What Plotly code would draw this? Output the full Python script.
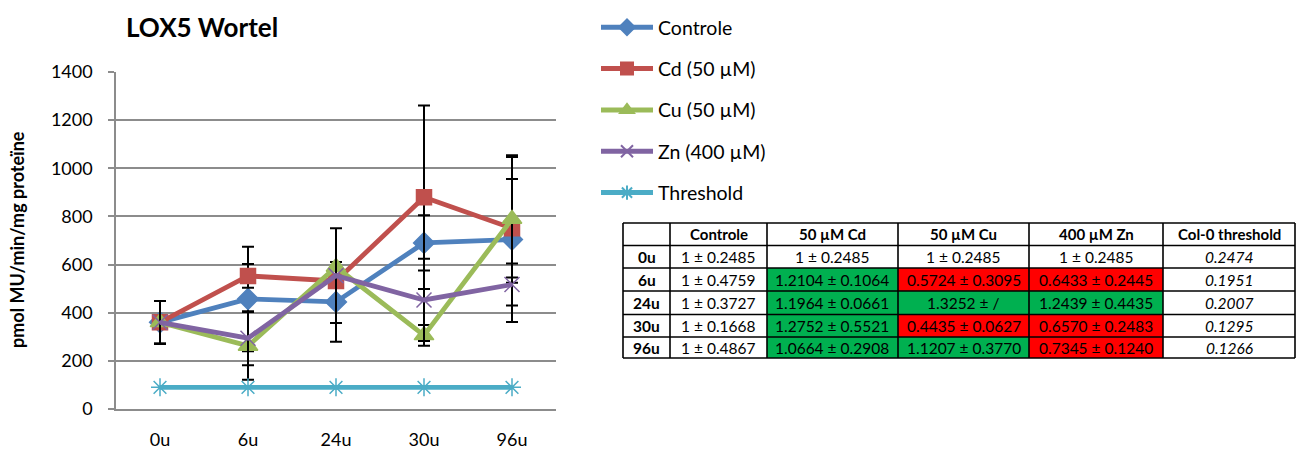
import plotly.graph_objects as go

# Sampling times
times = ["0u", "6u", "24u", "30u", "96u"]

# LOX5 activity (pmol MU/min/mg proteïne) and standard deviations
controle = [360, 457, 445, 690, 704]
controle_sd = [89, 217, 166, 115, 343]
cd = [360, 553, 532, 880, 751]
cd_sd = [89, 49, 29, 381, 205]
cu = [360, 262, 590, 306, 789]
cu_sd = [89, 141, None, 43, 265]
zn = [360, 294, 554, 453, 517]
zn_sd = [89, 112, 197, 171, 87]
threshold = [90, 90, 90, 90, 90]

# Relative activity table
table_header = ["", "Controle", "50 µM Cd", "50 µM Cu", "400 µM Zn", "Col-0 threshold"]
row_labels = ["0u", "6u", "24u", "30u", "96u"]
tbl_controle = ["1 ± 0.2485", "1 ± 0.4759", "1 ± 0.3727", "1 ± 0.1668", "1 ± 0.4867"]
tbl_cd = ["1 ± 0.2485", "1.2104 ± 0.1064", "1.1964 ± 0.0661", "1.2752 ± 0.5521", "1.0664 ± 0.2908"]
tbl_cu = ["1 ± 0.2485", "0.5724 ± 0.3095", "1.3252 ± /", "0.4435 ± 0.0627", "1.1207 ± 0.3770"]
tbl_zn = ["1 ± 0.2485", "0.6433 ± 0.2445", "1.2439 ± 0.4435", "0.6570 ± 0.2483", "0.7345 ± 0.1240"]
tbl_threshold = ["0.2474", "0.1951", "0.2007", "0.1295", "0.1266"]
# significance flags: "up" above threshold, "down" below, "" none
flag_cd = ["", "up", "up", "up", "up"]
flag_cu = ["", "down", "up", "down", "up"]
flag_zn = ["", "down", "up", "down", "down"]

FONT = "Lato, 'Open Sans', sans-serif"
W, H = 1304, 455
flag_color = {"": "white", "up": "#00B050", "down": "#FF0000"}


def err(sd):
    return dict(type="data", array=sd, visible=True, color="black",
                thickness=2, width=6)


series = [
    ("Controle", controle, controle_sd, "#4F81BD", "diamond", 16),
    ("Cd (50 µM)", cd, cd_sd, "#C0504D", "square", 15),
    ("Cu (50 µM)", cu, cu_sd, "#9BBB59", "triangle-up", 17),
    ("Zn (400 µM)", zn, zn_sd, "#8064A2", "x-thin-open", 15),
]

fig = go.Figure()
for i, (name, vals, sd, col, sym, sz) in enumerate(series):
    fig.add_trace(go.Scatter(
        x=times, y=vals, name=name, mode="lines+markers",
        line=dict(color=col, width=4.8),
        marker=dict(symbol=sym, size=sz, color=col, line=dict(color=col, width=1.5)),
        error_y=err(sd), legendgroup=f"g{i}",
    ))
fig.add_trace(go.Scatter(
    x=times, y=threshold, name="Threshold", mode="lines+markers",
    line=dict(color="#4BACC6", width=4.8),
    marker=dict(symbol="asterisk-open", size=15, color="#4BACC6",
                line=dict(color="#4BACC6", width=1.5)),
    legendgroup="g4",
))

# ---- table drawn with shapes + text annotations (pixel layout -> paper coords)
col_edges = [623, 670, 767, 898, 1029, 1163, 1295]
row_edges = [223, 245.5, 268, 291, 314.5, 337, 358]
columns = [row_labels, tbl_controle, tbl_cd, tbl_cu, tbl_zn, tbl_threshold]
fills = [["white"] * 5, ["white"] * 5,
         [flag_color[f] for f in flag_cd],
         [flag_color[f] for f in flag_cu],
         [flag_color[f] for f in flag_zn],
         ["white"] * 5]


def px(x):
    return x / W


def py(y):
    return 1 - y / H


shapes = []
annotations = []
for c in range(6):
    x0, x1 = col_edges[c], col_edges[c + 1]
    # header
    annotations.append(dict(
        text=f"<b>{table_header[c]}</b>" if table_header[c] else "",
        x=px((x0 + x1) / 2), y=py((row_edges[0] + row_edges[1]) / 2),
        xref="paper", yref="paper", xanchor="center", yanchor="middle",
        showarrow=False, font=dict(family=FONT, size=15, color="black")))
    for r in range(5):
        y0, y1 = row_edges[r + 1], row_edges[r + 2]
        shapes.append(dict(type="rect", xref="paper", yref="paper",
                           x0=px(x0), x1=px(x1), y0=py(y0), y1=py(y1),
                           fillcolor=fills[c][r], line=dict(width=0), layer="below"))
        txt = columns[c][r]
        if c == 0:
            txt = f"<b>{txt}</b>"
        elif c == 5:
            txt = f"<i>{txt}</i>"
        annotations.append(dict(
            text=txt, x=px((x0 + x1) / 2), y=py((y0 + y1) / 2),
            xref="paper", yref="paper", xanchor="center", yanchor="middle",
            showarrow=False, font=dict(family=FONT, size=15.5, color="black")))
# grid lines
for x in col_edges:
    shapes.append(dict(type="line", xref="paper", yref="paper",
                       x0=px(x), x1=px(x), y0=py(row_edges[0]), y1=py(row_edges[-1]),
                       line=dict(color="black", width=1.6)))
for y in row_edges:
    shapes.append(dict(type="line", xref="paper", yref="paper",
                       x0=px(col_edges[0]), x1=px(col_edges[-1]), y0=py(y), y1=py(y),
                       line=dict(color="black", width=1.6)))

annotations += [
    dict(text="<b>LOX5 Wortel</b>", x=px(124), y=py(27), xref="paper", yref="paper",
         xanchor="left", yanchor="middle", showarrow=False,
         font=dict(family=FONT, size=26, color="black")),
    dict(text="<b>pmol MU/min/mg proteïne</b>", x=px(17), y=py(240),
         xref="paper", yref="paper", xanchor="center", yanchor="middle",
         textangle=-90, showarrow=False,
         font=dict(family=FONT, size=18, color="black")),
]

grid = "#8C8C8C"
fig.update_layout(
    width=W, height=H,
    margin=dict(l=0, r=0, t=0, b=0, autoexpand=False),
    paper_bgcolor="white", plot_bgcolor="white",
    font=dict(family=FONT, size=18, color="black"),
    showlegend=True,
    legend=dict(x=px(596), y=py(8), xanchor="left", yanchor="top",
                traceorder="grouped", tracegroupgap=13, itemwidth=52,
                itemsizing="constant",
                font=dict(family=FONT, size=19.5, color="black"),
                bgcolor="rgba(0,0,0,0)"),
    xaxis=dict(domain=[px(116), px(556)], type="category", range=[-0.5, 4.5],
               showgrid=False, showline=True, linecolor=grid, linewidth=1.5,
               ticks="", tickfont=dict(size=18), ticklabelstandoff=14,
               automargin=False),
    yaxis=dict(domain=[py(409), py(72)], range=[0, 1400], dtick=200,
               showgrid=True, gridcolor=grid, gridwidth=1.5,
               showline=True, linecolor=grid, linewidth=1.5,
               ticks="outside", ticklen=6, tickcolor=grid, tickwidth=1.5,
               tickfont=dict(size=18), ticklabelstandoff=12, zeroline=False,
               automargin=False),
    shapes=shapes,
    annotations=annotations,
)

fig.write_html("out.html")
